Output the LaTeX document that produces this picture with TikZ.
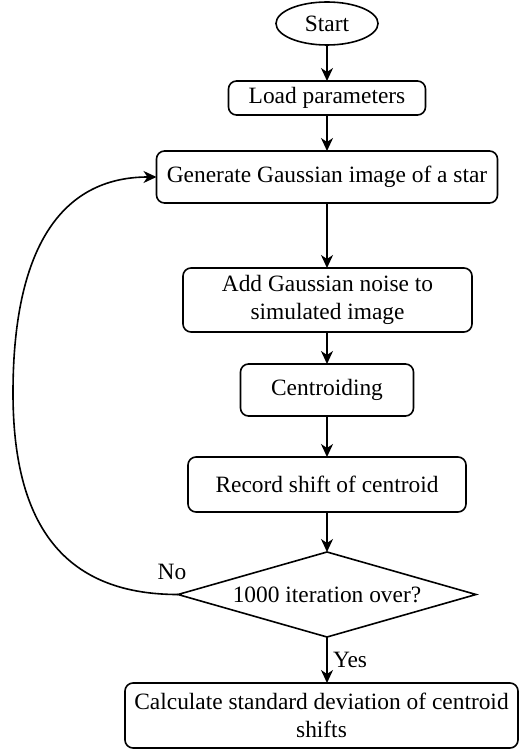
\documentclass[tikz,border=0pt]{standalone}
\usepackage{fontspec}
\setmainfont{Liberation Serif}
\newfontfamily\flowfont{Liberation Serif}
\usetikzlibrary{shapes.geometric,arrows.meta}
\begin{document}
\begin{tikzpicture}[x=1pt,y=-1pt,
  every node/.style={font=\flowfont\fontsize{23.4}{28.5}\selectfont, inner sep=0pt, outer sep=0pt},
  stepbox/.style={draw, line width=1.6pt, rounded corners=8pt, align=center},
  flow/.style={line width=1.6pt, -{Stealth[length=13pt,width=12pt,inset=4pt]}},
]
\useasboundingbox (0,0) rectangle (521,751);

% process steps
\node[draw, line width=1.6pt, ellipse, minimum width=102pt, minimum height=43pt] (start) at (327,23.5) {Start};
\node[stepbox, minimum width=197pt, minimum height=34pt] (load) at (327,98) {Load parameters};
\node[stepbox, minimum width=341pt, minimum height=52pt] (gen) at (327,177) {Generate Gaussian image of a star};
\node[stepbox, minimum width=289pt, minimum height=64pt] (add) at (327.5,300) {Add Gaussian noise to\\simulated image};
\node[stepbox, minimum width=173pt, minimum height=52pt] (cen) at (327,390) {Centroiding};
\node[stepbox, minimum width=278pt, minimum height=55pt] (rec) at (327,484.5) {Record shift of centroid};
\node[draw, line width=1.6pt, diamond, aspect=3.5, minimum width=298pt, minimum height=85pt] (dec) at (327,594.5) {1000 iteration over?};
\node[stepbox, minimum width=393pt, minimum height=65pt] (fin) at (321.5,715.5) {Calculate standard deviation of centroid\\shifts};

% straight connectors
\draw[flow] (start) -- (load);
\draw[flow] (load) -- (gen);
\draw[flow] (gen.south) -- (gen.south |- add.north);
\draw[flow] (add.south -| cen.north) -- (cen.north);
\draw[flow] (cen) -- (rec);
\draw[flow] (rec) -- (dec);
\draw[flow] (dec.south) -- node[right, xshift=6pt] {Yes} (dec.south |- fin.north);

% loop back for the next iteration
\coordinate (loopleft) at (13,393);
\draw[flow] (dec.west) .. controls (60,594.5) and (13,520) .. (loopleft)
  .. controls (13,250) and (60,177) .. (gen.west);
\node (no) at (172,572) {No};
\end{tikzpicture}
\end{document}
